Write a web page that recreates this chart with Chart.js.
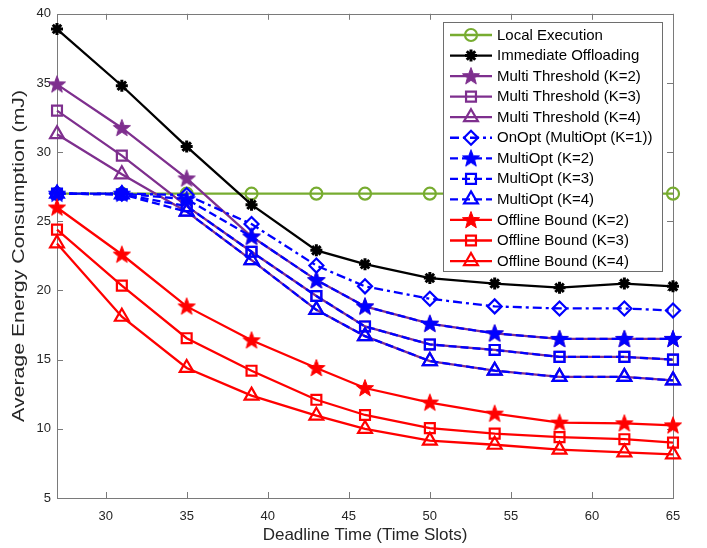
<!DOCTYPE html>
<html>
<head>
<meta charset="utf-8">
<script src="https://cdn.jsdelivr.net/npm/chart.js@4.4.1/dist/chart.umd.min.js"></script>
<style>
  html, body { margin: 0; padding: 0; background: #ffffff; }
  #wrap { width: 707px; height: 548px; position: relative; }
</style>
</head>
<body>
<div id="wrap"><canvas id="c" width="707" height="548"></canvas></div>
<script>
// ---- data ----
const deadlines = [27, 31, 35, 39, 43, 46, 50, 54, 58, 62, 65];
const xTickValues = [30, 35, 40, 45, 50, 55, 60, 65];
const yTickValues = [5, 10, 15, 20, 25, 30, 35, 40];

const localExecution     = [27, 27, 27, 27, 27, 27, 27, 27, 27, 27, 27];
const immediateOffload   = [38.9, 34.8, 30.4, 26.2, 22.9, 21.9, 20.9, 20.5, 20.2, 20.5, 20.3];
const multiThreshold2    = [34.9, 31.75, 28.1, 23.9, 20.75, 18.85, 17.6, 16.9, 16.5, 16.5, 16.5];
const multiThreshold3    = [33.0, 29.75, 26.1, 22.8, 19.6, 17.4, 16.1, 15.7, 15.2, 15.2, 15.0];
const multiThreshold4    = [31.3, 28.4, 25.7, 22.2, 18.6, 16.7, 14.9, 14.2, 13.75, 13.75, 13.5];
const onOpt              = [27.0, 27.0, 26.9, 24.8, 21.8, 20.3, 19.4, 18.85, 18.7, 18.7, 18.55];
const multiOpt2          = [27.0, 27.0, 26.6, 23.9, 20.75, 18.85, 17.6, 16.9, 16.5, 16.5, 16.5];
const multiOpt3          = [27.0, 26.95, 26.1, 22.8, 19.6, 17.4, 16.1, 15.7, 15.2, 15.2, 15.0];
const multiOpt4          = [27.0, 26.95, 25.7, 22.2, 18.6, 16.7, 14.9, 14.2, 13.75, 13.75, 13.5];
const offline2           = [26.0, 22.6, 18.85, 16.4, 14.4, 12.95, 11.9, 11.1, 10.45, 10.4, 10.25];
const offline3           = [24.4, 20.35, 16.55, 14.2, 12.1, 11.0, 10.05, 9.65, 9.4, 9.25, 9.0];
const offline4           = [23.4, 18.1, 14.4, 12.4, 10.95, 10.0, 9.15, 8.85, 8.5, 8.3, 8.15];

const seriesLabels = [
  'Local Execution', 'Immediate Offloading',
  'Multi Threshold (K=2)', 'Multi Threshold (K=3)', 'Multi Threshold (K=4)',
  'OnOpt (MultiOpt (K=1))', 'MultiOpt (K=2)', 'MultiOpt (K=3)', 'MultiOpt (K=4)',
  'Offline Bound (K=2)', 'Offline Bound (K=3)', 'Offline Bound (K=4)'
];
const seriesValues = [
  localExecution, immediateOffload,
  multiThreshold2, multiThreshold3, multiThreshold4,
  onOpt, multiOpt2, multiOpt3, multiOpt4,
  offline2, offline3, offline4
];
const xTitle = 'Deadline Time (Time Slots)';
const yTitle = 'Average Energy Consumption (mJ)';

// ---- styles ----
const GREEN = '#77AC30', BLACK = '#000000', PURPLE = '#7E2F8E', BLUE = '#0000FF', RED = '#FF0000';
const FONT = '"Liberation Sans", Arial, Helvetica, sans-serif';
const TEXT_COLOR = '#262626';

function makePentagram(color, R) {
  const s = Math.ceil(R * 2 + 4);
  const c = document.createElement('canvas');
  c.width = s; c.height = s;
  const g = c.getContext('2d');
  g.beginPath();
  for (let i = 0; i < 10; i++) {
    const a = -Math.PI / 2 + i * Math.PI / 5;
    const r = (i % 2) ? R * 0.42 : R;
    const px = s / 2 + r * Math.cos(a), py = s / 2 + 0.5 + r * Math.sin(a);
    if (i === 0) g.moveTo(px, py); else g.lineTo(px, py);
  }
  g.closePath();
  g.fillStyle = color; g.fill();
  g.strokeStyle = color; g.lineWidth = 1; g.stroke();
  return c;
}

const starPurple = makePentagram(PURPLE, 9);
const starBlue = makePentagram(BLUE, 9);
const starRed = makePentagram(RED, 9);

const styles = [
  { color: GREEN,  point: 'circle',   radius: 6, dash: [] },
  { color: BLACK,  point: 'star',     radius: 6, dash: [], bw: 3 },
  { color: PURPLE, point: starPurple, radius: 9, dash: [] },
  { color: PURPLE, point: 'rect',     radius: 7, dash: [] },
  { color: PURPLE, point: 'triangle', radius: 8, dash: [] },
  { color: BLUE,   point: 'rectRot',  radius: 7, dash: [9, 4, 3, 4] },
  { color: BLUE,   point: starBlue,   radius: 9, dash: [8, 4] },
  { color: BLUE,   point: 'rect',     radius: 7, dash: [8, 4] },
  { color: BLUE,   point: 'triangle', radius: 8, dash: [8, 4] },
  { color: RED,    point: starRed,    radius: 9, dash: [] },
  { color: RED,    point: 'rect',     radius: 7, dash: [] },
  { color: RED,    point: 'triangle', radius: 8, dash: [] }
];

const LINE_W = 2.3;

const datasets = seriesValues.map((vals, i) => ({
  label: seriesLabels[i],
  data: deadlines.map((x, j) => ({ x: x, y: vals[j] })),
  borderColor: styles[i].color,
  backgroundColor: styles[i].color,
  borderWidth: LINE_W,
  borderDash: styles[i].dash,
  pointStyle: styles[i].point,
  pointRadius: styles[i].radius,
  pointHoverRadius: styles[i].radius,
  pointBorderColor: styles[i].color,
  pointBackgroundColor: 'rgba(0,0,0,0)',
  pointBorderWidth: styles[i].bw || 2.2,
  tension: 0,
  fill: false,
  clip: false,
  order: seriesValues.length - i
}));

const AXIS_COLOR = '#7a7a7a';

const framePlugin = {
  id: 'frame',
  beforeDatasetsDraw(chart) {
    const { ctx, chartArea: a, scales } = chart;
    ctx.save();
    ctx.strokeStyle = AXIS_COLOR;
    ctx.lineWidth = 1;
    ctx.strokeRect(Math.round(a.left) + 0.5, Math.round(a.top) + 0.5,
                   Math.round(a.right - a.left), Math.round(a.bottom - a.top));
    const tl = 6;
    ctx.beginPath();
    xTickValues.forEach(v => {
      const px = Math.round(scales.x.getPixelForValue(v)) + 0.5;
      ctx.moveTo(px, a.bottom); ctx.lineTo(px, a.bottom - tl);
      ctx.moveTo(px, a.top); ctx.lineTo(px, a.top + tl);
    });
    yTickValues.forEach(v => {
      const py = Math.round(scales.y.getPixelForValue(v)) + 0.5;
      ctx.moveTo(a.left, py); ctx.lineTo(a.left + tl, py);
      ctx.moveTo(a.right, py); ctx.lineTo(a.right - tl, py);
    });
    ctx.stroke();

    // y-axis title (stretched along its direction like the reference)
    const cy = (a.top + a.bottom) / 2;
    ctx.translate(20, cy);
    ctx.rotate(-Math.PI / 2);
    ctx.scale(1.33, 1);
    ctx.fillStyle = TEXT_COLOR;
    ctx.font = '16px ' + FONT;
    ctx.textAlign = 'center';
    ctx.textBaseline = 'middle';
    ctx.fillText(yTitle, 0, 0);
    ctx.restore();
  },
  afterDatasetsDraw(chart) {
    const { ctx } = chart;
    const bx = 443, by = 22, bw = 219, bh = 249;
    const rowH = 20.55, firstY = 35;
    ctx.save();
    ctx.fillStyle = '#ffffff';
    ctx.fillRect(bx, by, bw, bh);
    ctx.strokeStyle = '#6e6e6e';
    ctx.lineWidth = 1;
    ctx.strokeRect(bx + 0.5, by + 0.5, bw, bh);
    ctx.font = '15px ' + FONT;
    ctx.textBaseline = 'middle';
    ctx.textAlign = 'left';
    seriesLabels.forEach((lab, i) => {
      const st = styles[i];
      const y = firstY + i * rowH;
      ctx.save();
      ctx.strokeStyle = st.color;
      ctx.lineWidth = LINE_W;
      ctx.setLineDash(st.dash);
      ctx.beginPath();
      ctx.moveTo(450, y); ctx.lineTo(492, y);
      ctx.stroke();
      ctx.setLineDash([]);
      ctx.fillStyle = 'rgba(0,0,0,0)';
      ctx.strokeStyle = st.color;
      ctx.lineWidth = st.bw || 2.2;
      Chart.helpers.drawPoint(ctx, { pointStyle: st.point, radius: st.radius, rotation: 0, borderWidth: st.bw || 2.2 }, 471, y);
      ctx.restore();
      ctx.fillStyle = '#000000';
      ctx.fillText(lab, 497, y + 0.5);
    });
    ctx.restore();
  }
};

new Chart(document.getElementById('c'), {
  type: 'line',
  data: { datasets: datasets },
  options: {
    responsive: false,
    animation: false,
    events: [],
    layout: { padding: { left: 0, right: 34, top: 10, bottom: 0 } },
    plugins: { legend: { display: false }, tooltip: { enabled: false } },
    scales: {
      x: {
        type: 'linear',
        min: 27, max: 65,
        grid: { display: false, drawTicks: false },
        border: { display: false },
        afterBuildTicks(scale) { scale.ticks = xTickValues.map(v => ({ value: v })); },
        afterFit(scale) { scale.height = 50; },
        ticks: { color: TEXT_COLOR, font: { family: FONT, size: 13 }, padding: 11, maxRotation: 0, autoSkip: false },
        title: { display: true, text: xTitle, color: TEXT_COLOR,
                 font: { family: FONT, size: 17 }, padding: { top: 0, bottom: 2 } }
      },
      y: {
        type: 'linear',
        min: 5, max: 40,
        grid: { display: false, drawTicks: false },
        border: { display: false },
        afterBuildTicks(scale) { scale.ticks = yTickValues.map(v => ({ value: v })); },
        afterFit(scale) { scale.width = 57; },
        ticks: { color: TEXT_COLOR, font: { family: FONT, size: 13 }, padding: 6, autoSkip: false },
        title: { display: false, text: yTitle }
      }
    }
  },
  plugins: [framePlugin]
});
</script>
</body>
</html>
